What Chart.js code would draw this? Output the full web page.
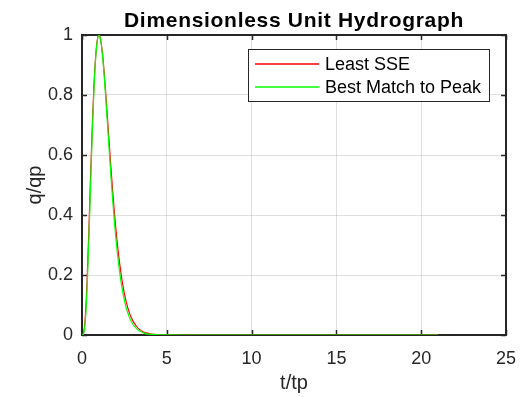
<!DOCTYPE html>
<html>
<head>
<meta charset="utf-8">
<script src="https://cdn.jsdelivr.net/npm/chart.js@4"></script>
<style>
  html, body { margin: 0; padding: 0; background: #fff; }
  #wrap { width: 522px; height: 397px; }
</style>
</head>
<body>
<div id="wrap"><canvas id="myChart" width="522" height="397"></canvas></div>
<script>
// t/tp sample points
var tRatio = [0, 0.1, 0.2, 0.3, 0.4, 0.5, 0.6, 0.7, 0.8, 0.9, 1.0,
  1.1, 1.2, 1.3, 1.4, 1.5, 1.6, 1.7, 1.8, 1.9, 2.0,
  2.2, 2.4, 2.6, 2.8, 3.0, 3.2, 3.4, 3.6, 3.8, 4.0, 4.5, 5, 6, 8, 10, 12, 14, 16, 18, 20, 21];
// q/qp, red curve
var leastSSE = [0, 0.008, 0.064, 0.180, 0.341, 0.519, 0.686, 0.825, 0.924, 0.982, 1.0,
  0.984, 0.942, 0.880, 0.806, 0.725, 0.643, 0.562, 0.486, 0.416, 0.352,
  0.247, 0.168, 0.112, 0.073, 0.047, 0.030, 0.018, 0.011, 0.007, 0.004, 0.001, 0.0003, 0, 0, 0, 0, 0, 0, 0, 0, 0];
// q/qp, green curve
var bestPeak = [0, 0.006, 0.050, 0.155, 0.310, 0.489, 0.664, 0.811, 0.918, 0.980, 1.0,
  0.983, 0.937, 0.870, 0.790, 0.705, 0.618, 0.534, 0.456, 0.385, 0.321,
  0.218, 0.144, 0.092, 0.058, 0.036, 0.022, 0.013, 0.008, 0.004, 0.003, 0.0006, 0.0001, 0, 0, 0, 0, 0, 0, 0, 0, 0];

var seriesNames = ["Least SSE", "Best Match to Peak"];
var seriesColors = ["#ff0000", "#00ff00"];
var xTicks = [0, 5, 10, 15, 20, 25];
var yTicks = [0, 0.2, 0.4, 0.6, 0.8, 1];
var yTickLabels = ["0", "0.2", "0.4", "0.6", "0.8", "1"];

function pts(ys) {
  return tRatio.map(function (t, i) { return { x: t, y: ys[i] }; });
}

var axisColor = "#262626";
var fontFam = "Arial, 'Liberation Sans', Helvetica, sans-serif";

// box + inward ticks under the lines, title + legend on top
var matlabDeco = {
  id: "matlabDeco",
  beforeDatasetsDraw: function (chart) {
    var ctx = chart.ctx;
    var a = chart.chartArea;
    var xs = chart.scales.x, ys = chart.scales.y;
    ctx.save();
    ctx.strokeStyle = axisColor;
    ctx.lineWidth = 2;
    ctx.strokeRect(a.left, a.top, a.right - a.left, a.bottom - a.top);
    ctx.lineWidth = 1.5;
    ctx.beginPath();
    xTicks.forEach(function (v) {
      var px = Math.round(xs.getPixelForValue(v)) + 0.5;
      ctx.moveTo(px, a.bottom); ctx.lineTo(px, a.bottom - 5);
      ctx.moveTo(px, a.top); ctx.lineTo(px, a.top + 5);
    });
    yTicks.forEach(function (v) {
      var py = Math.round(ys.getPixelForValue(v)) + 0.5;
      ctx.moveTo(a.left, py); ctx.lineTo(a.left + 5, py);
      ctx.moveTo(a.right, py); ctx.lineTo(a.right - 5, py);
    });
    ctx.stroke();
    ctx.restore();
  },
  afterDraw: function (chart) {
    var ctx = chart.ctx;
    var a = chart.chartArea;
    ctx.save();
    // title
    ctx.fillStyle = "#000";
    ctx.font = "bold 21px " + fontFam;
    ctx.letterSpacing = "0.7px";
    ctx.textAlign = "center";
    ctx.textBaseline = "middle";
    ctx.fillText("Dimensionless Unit Hydrograph", (a.left + a.right) / 2, 21);
    ctx.letterSpacing = "0px";

    // legend
    var lx = 248.5, ly = 49.5, lw = 241, lh = 52;
    ctx.fillStyle = "#fff";
    ctx.fillRect(lx, ly, lw, lh);
    ctx.strokeStyle = axisColor;
    ctx.lineWidth = 1;
    ctx.strokeRect(lx, ly, lw, lh);
    ctx.font = "18px " + fontFam;
    ctx.textAlign = "left";
    seriesNames.forEach(function (name, i) {
      var yy = 64 + i * 23;
      ctx.strokeStyle = seriesColors[i];
      ctx.lineWidth = 1.5;
      ctx.beginPath();
      ctx.moveTo(255, yy); ctx.lineTo(319, yy);
      ctx.stroke();
      ctx.fillStyle = "#000";
      ctx.fillText(name, 325, yy + 1);
    });
    ctx.restore();
  }
};

var c = new Chart("myChart", {
  type: "line",
  data: {
    datasets: [
      { label: seriesNames[0], data: pts(leastSSE), borderColor: seriesColors[0], borderWidth: 1.2, pointRadius: 0, cubicInterpolationMode: "monotone", order: 2 },
      { label: seriesNames[1], data: pts(bestPeak), borderColor: seriesColors[1], borderWidth: 1.2, pointRadius: 0, cubicInterpolationMode: "monotone", order: 1 }
    ]
  },
  options: {
    responsive: false,
    animation: false,
    devicePixelRatio: 1,
    layout: { padding: { top: 35, right: 16, left: 0, bottom: 0 } },
    plugins: { legend: { display: false }, title: { display: false }, tooltip: { enabled: false } },
    scales: {
      x: {
        type: "linear", min: 0, max: 25,
        afterFit: function (s) { s.height = 62; s.paddingLeft = 0; s.paddingRight = 0; },
        afterBuildTicks: function (s) { s.ticks = xTicks.map(function (v) { return { value: v }; }); },
        ticks: { color: axisColor, font: { size: 18, family: fontFam }, padding: 13, maxRotation: 0 },
        grid: { color: "rgba(38,38,38,0.15)", drawTicks: false },
        border: { display: false },
        title: { display: true, text: "t/tp", color: axisColor, font: { size: 20, family: fontFam }, padding: { top: 2, bottom: 2 } }
      },
      y: {
        type: "linear", min: 0, max: 1,
        afterFit: function (s) { s.width = 82; s.paddingTop = 0; s.paddingBottom = 0; },
        afterBuildTicks: function (s) { s.ticks = yTicks.map(function (v) { return { value: v }; }); },
        ticks: {
          color: axisColor, font: { size: 18, family: fontFam }, padding: 9,
          callback: function (v, i) { return yTickLabels[i]; }
        },
        grid: { color: "rgba(38,38,38,0.15)", drawTicks: false },
        border: { display: false },
        title: { display: true, text: "q/qp", color: axisColor, font: { size: 20, family: fontFam }, padding: { top: 23, bottom: 23 } }
      }
    }
  },
  plugins: [matlabDeco]
});
</script>
</body>
</html>
